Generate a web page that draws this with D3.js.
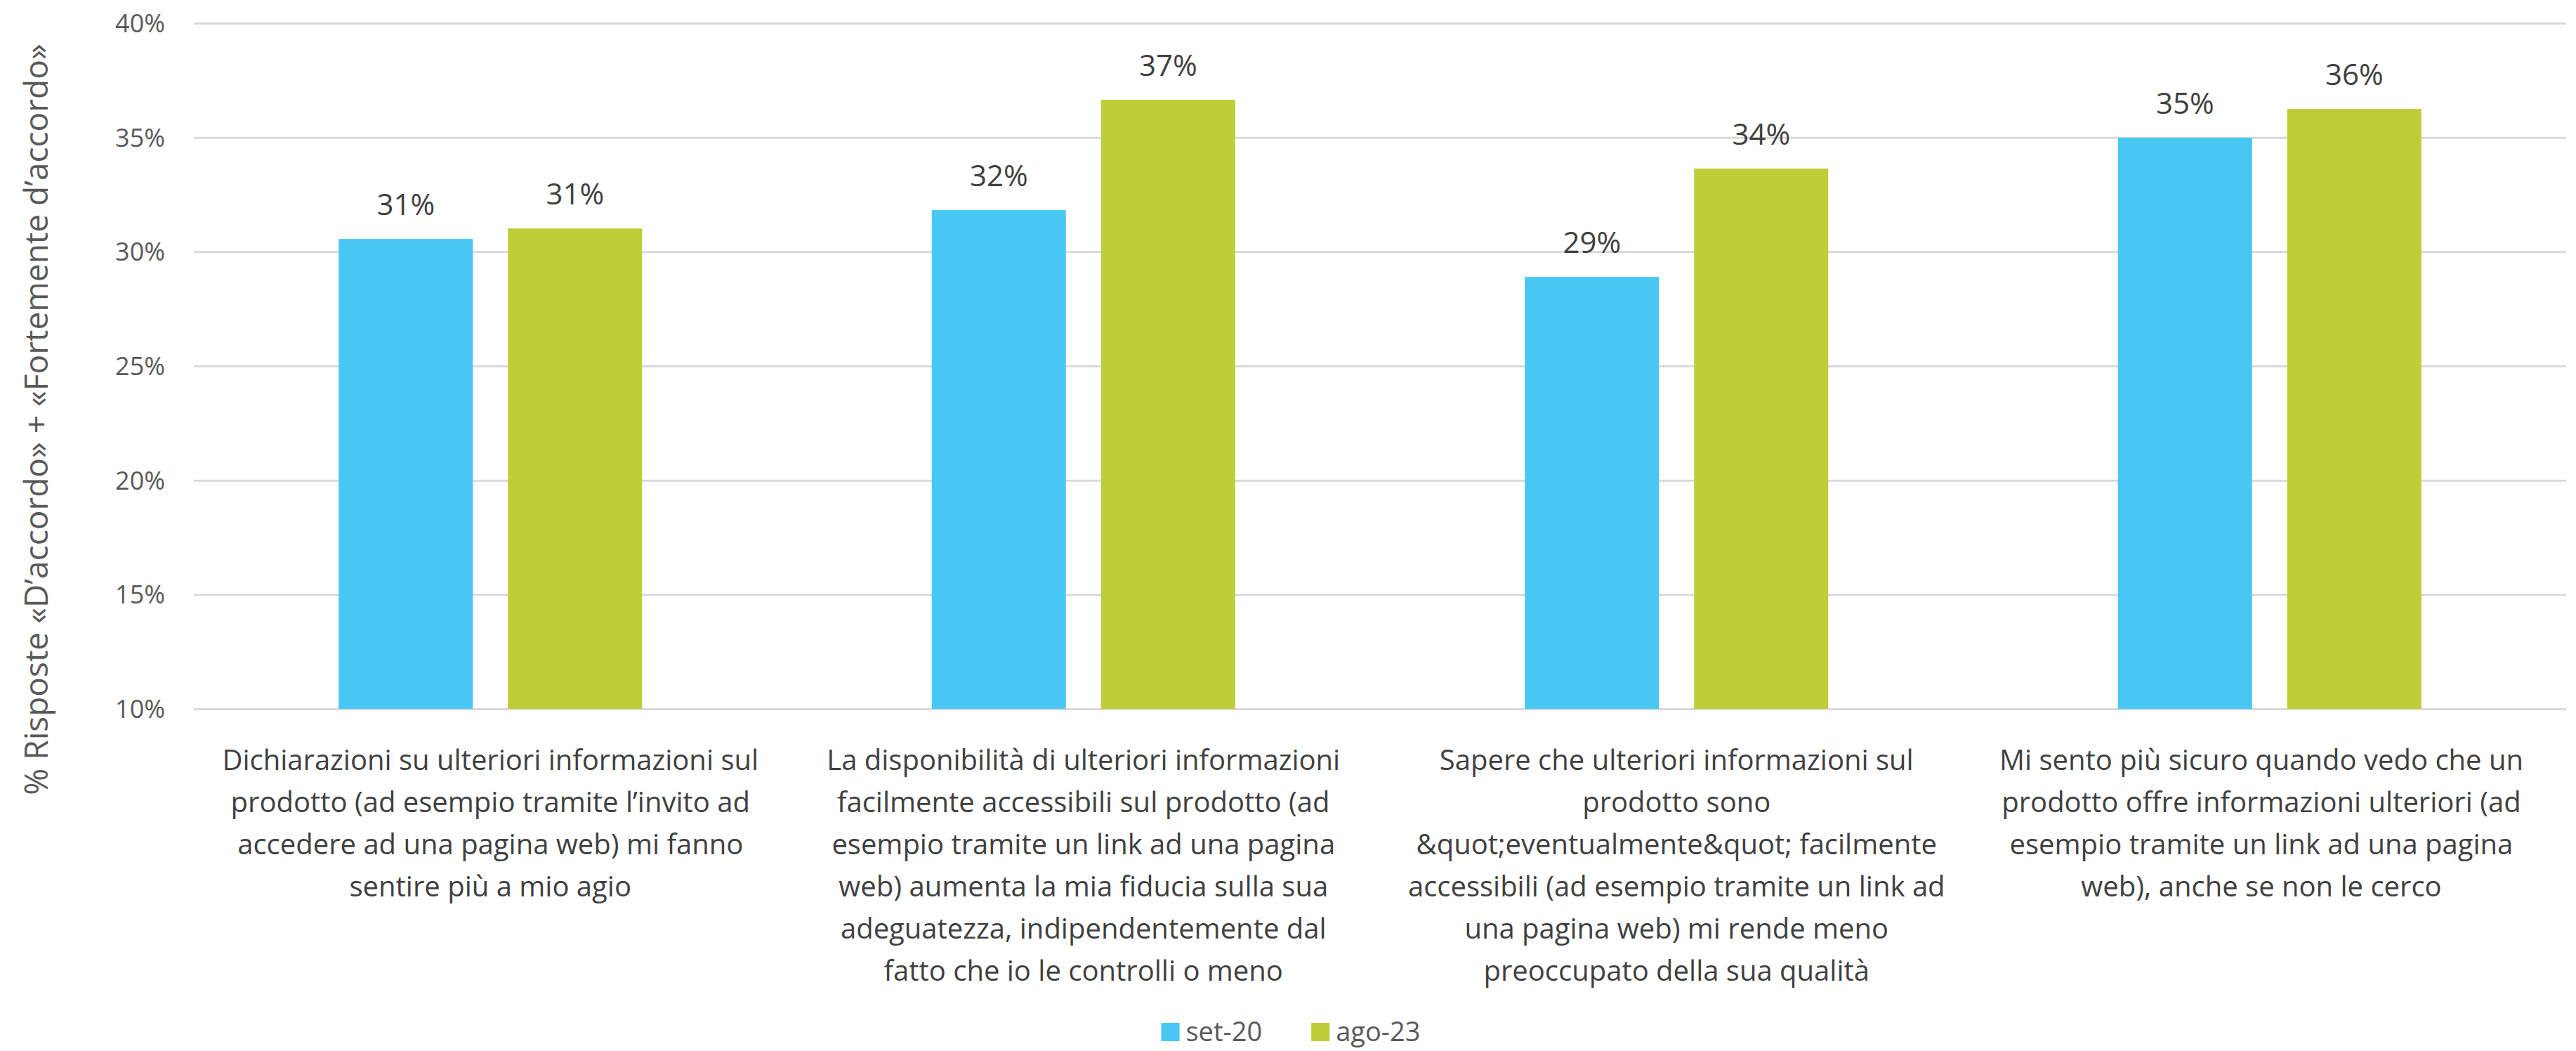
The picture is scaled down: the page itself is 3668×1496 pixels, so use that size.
<!DOCTYPE html>
<html>
<head>
<meta charset="utf-8">
<script src="https://cdn.jsdelivr.net/npm/d3@7"></script>
<style>
html,body{margin:0;padding:0;background:#fff;}
svg{display:block;font-family:"Segoe UI","Open Sans","Noto Sans",sans-serif;}
</style>
</head>
<body>
<svg id="chart" width="3668" height="1496"></svg>
<script>
const categories = [
  ["Dichiarazioni su ulteriori informazioni sul", "prodotto (ad esempio tramite l’invito ad", "accedere ad una pagina web) mi fanno", "sentire più a mio agio"],
  ["La disponibilità di ulteriori informazioni", "facilmente accessibili sul prodotto (ad", "esempio tramite un link ad una pagina", "web) aumenta la mia fiducia sulla sua", "adeguatezza, indipendentemente dal", "fatto che io le controlli o meno"],
  ["Sapere che ulteriori informazioni sul", "prodotto sono", "&quot;eventualmente&quot; facilmente", "accessibili (ad esempio tramite un link ad", "una pagina web) mi rende meno", "preoccupato della sua qualità"],
  ["Mi sento più sicuro quando vedo che un", "prodotto offre informazioni ulteriori (ad", "esempio tramite un link ad una pagina", "web), anche se non le cerco"]
];
const seriesNames = ["set-20", "ago-23"];
const set20 = [0.3056, 0.3182, 0.2890, 0.3499];
const ago23 = [0.3102, 0.3665, 0.3364, 0.3625];
const yTicks = [0.10, 0.15, 0.20, 0.25, 0.30, 0.35, 0.40];
const yTitle = "% Risposte «D’accordo» + «Fortemente d’accordo»";
const colors = ["#47c8f3", "#bfcd38"];

const svg = d3.select("#chart");
const plot = {left: 276, right: 3654, top: 33, bottom: 1009};

const x0 = d3.scaleBand().domain(d3.range(categories.length)).range([plot.left, plot.right]).padding(0);
const x1 = d3.scaleBand().domain(seriesNames).range([-216, 216]).paddingInner(0.2075).paddingOuter(0);
const y = d3.scaleLinear().domain([0.10, 0.40]).range([plot.bottom, plot.top]);

// gridlines + y tick labels via axis
const yAxis = d3.axisLeft(y).tickValues(yTicks).tickFormat(d3.format(".0%")).tickSize(-(plot.right - plot.left)).tickPadding(41);
const gy = svg.append("g").attr("transform", `translate(${plot.left},0)`).call(yAxis);
gy.select(".domain").remove();
gy.selectAll(".tick line").attr("stroke", "#d9d9d9").attr("stroke-width", 3);
gy.selectAll(".tick text").attr("fill", "#595959").attr("font-size", 36).attr("dy", "0.35em")
  .attr("font-family", '"Segoe UI","Open Sans","Noto Sans",sans-serif');

const data = categories.map((c, i) => ({i, vals: [{s: seriesNames[0], v: set20[i]}, {s: seriesNames[1], v: ago23[i]}]}));

const groups = svg.append("g").selectAll("g").data(data).join("g")
  .attr("transform", d => `translate(${x0(d.i) + x0.bandwidth() / 2},0)`);

groups.selectAll("rect").data(d => d.vals).join("rect")
  .attr("x", d => x1(d.s))
  .attr("width", x1.bandwidth())
  .attr("y", d => y(d.v))
  .attr("height", d => y(0.10) - y(d.v))
  .attr("fill", (d, j) => colors[j]);

groups.selectAll("text.val").data(d => d.vals).join("text")
  .attr("class", "val")
  .attr("x", d => x1(d.s) + x1.bandwidth() / 2)
  .attr("y", d => y(d.v) - 34)
  .attr("text-anchor", "middle")
  .attr("font-size", 42)
  .attr("fill", "#404040")
  .text(d => d3.format(".0%")(d.v));

// category labels
const catG = svg.append("g").selectAll("text").data(data).join("text")
  .attr("text-anchor", "middle")
  .attr("font-size", 40)
  .attr("fill", "#404040");
catG.each(function(d) {
  const t = d3.select(this);
  categories[d.i].forEach((line, k) => {
    t.append("tspan").attr("x", 0).attr("y", 1096 + k * 60).text(line);
  });
  const w = this.getBBox().width;
  let cx = x0(d.i) + x0.bandwidth() / 2;
  cx = Math.max(cx, plot.left + 21 + w / 2);
  cx = Math.min(cx, plot.right - 61 - w / 2);
  t.selectAll("tspan").attr("x", cx);
});

// y axis title
svg.append("text")
  .attr("transform", `translate(68,597) rotate(-90)`)
  .attr("text-anchor", "middle")
  .attr("font-size", 46)
  .attr("fill", "#595959")
  .text(yTitle);

// legend
const legend = svg.append("g");
let lx = 0;
const items = legend.selectAll("g").data(seriesNames).join("g");
items.each(function(s, j) {
  const g = d3.select(this);
  g.append("rect").attr("x", 0).attr("y", -13).attr("width", 26).attr("height", 26).attr("fill", colors[j]);
  g.append("text").attr("x", 35).attr("y", 0).attr("dy", "0.35em").attr("font-size", 38).attr("fill", "#595959").text(s);
});
items.each(function() {
  const w = this.getBBox().width;
  d3.select(this).attr("transform", `translate(${lx},0)`);
  lx += w + 70;
});
const totalW = lx - 70;
legend.attr("transform", `translate(${1838 - totalW / 2},1469)`);
</script>
</body>
</html>
